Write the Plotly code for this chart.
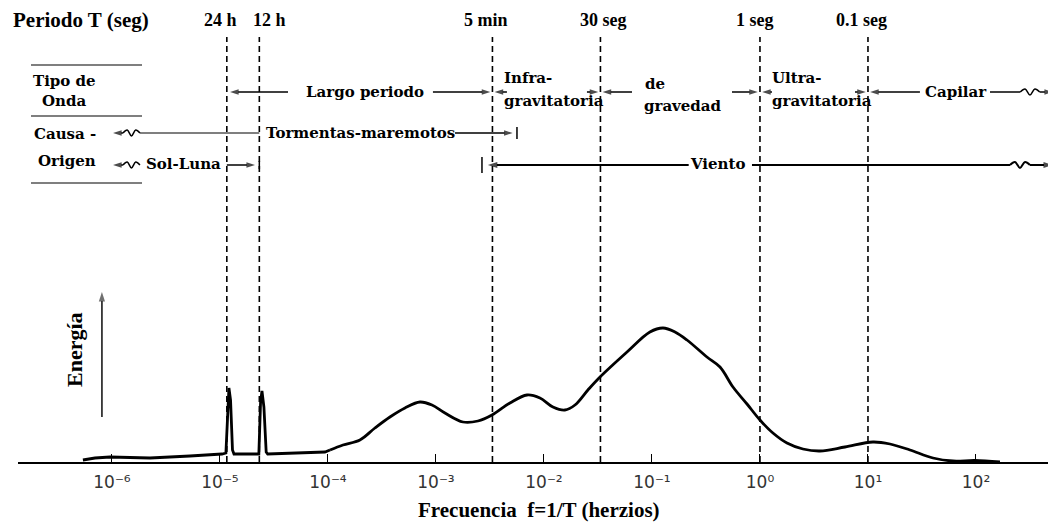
import numpy as np
import plotly.graph_objects as go

# ---------------- data ----------------
period_labels = ["24 h", "12 h", "5 min", "30 seg", "1 seg", "0.1 seg"]
period_seconds = [86400, 43200, 300, 30, 1, 0.1]

# low-frequency part (tides, drawn with straight segments)
tide_logf = [-6.269, -6.157, -6.019, -5.648, -5.278, -4.981, -4.945, -4.928, -4.917,
             -4.902, -4.884, -4.870, -4.640, -4.624, -4.611, -4.593, -4.572, -4.558,
             -4.028, -3.981]
tide_energy = [2, 4, 5, 4, 6, 8, 9, 60, 74, 62, 12, 8, 8, 60, 71, 55, 10, 8, 10, 12]

# smooth part of the spectrum
wave_logf = [-3.981, -3.861, -3.704, -3.565, -3.426, -3.287, -3.148, -3.037, -2.917,
             -2.750, -2.611, -2.481, -2.315, -2.157, -2.037, -1.917, -1.806, -1.713,
             -1.593, -1.481, -1.231, -1.019, -0.898, -0.787, -0.676, -0.491, -0.370,
             -0.250, -0.120, 0.000, 0.120, 0.250, 0.398, 0.556, 0.787, 1.046, 1.204,
             1.389, 1.602, 1.787, 1.991, 2.222]
wave_energy = [12, 17, 22, 34, 45, 54, 60, 57, 49, 40, 41, 47, 59, 67, 64, 55, 52, 57,
               72, 85, 110, 130, 134, 130, 122, 105, 95, 75, 58, 42, 29, 19, 13, 11, 15,
               20, 18, 12, 4, 1, 1.5, 0]

tick_exponents = [-6, -5, -4, -3, -2, -1, 0, 1, 2]
tick_labels = ["10⁻⁶", "10⁻⁵", "10⁻⁴", "10⁻³", "10⁻²", "10⁻¹", "10⁰", "10¹", "10²"]

# ---------------- styling ----------------
TIMES = "Liberation Serif"
ROWF = "DejaVu Serif"
BLACK = "black"
YTOP = 454         # frame height in energy units (page offset of 8 px compensated)
TOP = 425          # top of dashed period lines
Y_PERIOD = 442
Y_TYPE = 370
Y_STORM = 329
Y_SUN = 297

period_logf = [float(np.log10(1.0 / t)) for t in period_seconds]
label_shift = [-6, 10, -6, 3, -5, -6]

fig = go.Figure()

# spectrum
fig.add_trace(go.Scatter(x=[10 ** v for v in tide_logf], y=tide_energy, mode="lines",
                         line=dict(color=BLACK, width=2.8), hoverinfo="skip"))
fig.add_trace(go.Scatter(x=[10 ** v for v in wave_logf], y=wave_energy, mode="lines",
                         line=dict(color=BLACK, width=2.8, shape="spline", smoothing=1.0),
                         hoverinfo="skip"))

# dashed period lines
for lf in period_logf:
    fig.add_trace(go.Scatter(x=[10 ** lf, 10 ** lf], y=[0, TOP], mode="lines",
                             line=dict(color=BLACK, width=1.6, dash="6px,4px"),
                             hoverinfo="skip"))


def seg(x0, x1, y, w=1.5):
    fig.add_trace(go.Scatter(x=[10 ** x0, 10 ** x1], y=[y, y], mode="lines",
                             line=dict(color=BLACK, width=w), hoverinfo="skip"))


def vbar(x, y, h=6, w=1.5):
    fig.add_trace(go.Scatter(x=[10 ** x, 10 ** x], y=[y - h, y + h], mode="lines",
                             line=dict(color=BLACK, width=w), hoverinfo="skip"))


def zig(x0, x1, y, amp=3.0, n=5, w=1.5):
    xs = np.linspace(x0, x1, n)
    ys = [y] + [y + (amp if i % 2 else -amp) for i in range(1, n - 1)] + [y]
    fig.add_trace(go.Scatter(x=[10 ** v for v in xs], y=ys, mode="lines",
                             line=dict(color=BLACK, width=w, shape="spline"),
                             hoverinfo="skip"))


def arrow(tip, tail, y, w=1.5, size=9):
    fig.add_trace(go.Scatter(x=[10 ** tail, 10 ** tip], y=[y, y], mode="lines+markers",
                             line=dict(color=BLACK, width=w),
                             marker=dict(symbol="arrow", angleref="previous", size=[0, size],
                                         color=BLACK, line=dict(width=0)),
                             hoverinfo="skip"))


annotations = []


def txt(text, x, y, size=15, font=ROWF, xanchor="center", xref="x", bold=True, **kw):
    annotations.append(dict(text=f"<b>{text}</b>" if bold else text, x=x, y=y, xref=xref,
                            yref="y", showarrow=False, xanchor=xanchor, yanchor="middle",
                            font=dict(family=font, size=size, color=BLACK), **kw))


lf24, lf12, lf5m, lf30, lf1, lf01 = period_logf

# ---- row: tipo de onda ----
arrow(lf24 + 0.03, -4.370, Y_TYPE)
txt("Largo periodo", -3.657, Y_TYPE)
arrow(lf5m - 0.02, -3.028, Y_TYPE)
arrow(lf5m + 0.02, -2.343, Y_TYPE)
txt("Infra-", -2.385, Y_TYPE + 14, xanchor="left")
txt("gravitatoria", -2.385, Y_TYPE - 9, xanchor="left")
arrow(lf30 - 0.02, -1.602, Y_TYPE)
arrow(lf30 + 0.02, -1.185, Y_TYPE)
txt("de", -1.083, Y_TYPE + 8, xanchor="left")
txt("gravedad", -1.095, Y_TYPE - 14, xanchor="left")
arrow(lf1 - 0.02, -0.259, Y_TYPE)
arrow(lf1 + 0.02, 0.111, Y_TYPE)
txt("Ultra-", 0.090, Y_TYPE + 14, xanchor="left")
txt("gravitatoria", 0.090, Y_TYPE - 9, xanchor="left")
arrow(lf01 - 0.02, 0.880, Y_TYPE)
arrow(lf01 + 0.02, 1.481, Y_TYPE)
txt("Capilar", 1.819, Y_TYPE)
seg(2.13, 2.41, Y_TYPE)
zig(2.41, 2.59, Y_TYPE)
arrow(2.713, 2.59, Y_TYPE)

# ---- row: tormentas-maremotos ----
arrow(-5.99, -5.898, Y_STORM)
zig(-5.898, -5.741, Y_STORM)
seg(-5.741, lf12, Y_STORM, w=1.2)
txt("Tormentas-maremotos", -3.699, Y_STORM)
arrow(-2.29, -2.824, Y_STORM)
vbar(-2.25, Y_STORM)

# ---- row: sol-luna ----
arrow(-5.99, -5.898, Y_SUN)
zig(-5.898, -5.741, Y_SUN)
txt("Sol-Luna", -5.338, Y_SUN + 1)
arrow(lf12 - 0.04, lf24, Y_SUN)
vbar(lf12, Y_SUN, h=4)

# ---- row: viento ----
vbar(-2.574, Y_SUN, h=8)
arrow(-2.52, -0.66, Y_SUN, w=2.2, size=10)
txt("Viento", -0.389, Y_SUN + 1)
seg(-0.074, 2.315, Y_SUN, w=2.2)
zig(2.315, 2.5, Y_SUN, w=2.0)
arrow(2.713, 2.5, Y_SUN, w=2.0, size=10)

# ---- period labels ----
for lab, lf, sh in zip(period_labels, period_logf, label_shift):
    txt(lab, lf, Y_PERIOD, size=18, font=TIMES, xshift=sh)


# ---- left column ----
def px(p):
    return (p - 18) / 1038.0


txt("Periodo T (seg)", px(11), Y_PERIOD, size=21, font=TIMES, xanchor="left", xref="paper")
txt("Tipo de", px(31), 381, xanchor="left", xref="paper")
txt("Onda", px(40), 361, xanchor="left", xref="paper")
txt("Causa -", px(32), 328, xanchor="left", xref="paper")
txt("Origen", px(36), 301, xanchor="left", xref="paper")

shapes = []
for yy in [397, 346, 279]:
    shapes.append(dict(type="line", xref="paper", yref="paper", x0=px(31), x1=px(142),
                       y0=yy / YTOP, y1=yy / YTOP, line=dict(color=BLACK, width=1.2)))

# energy label + arrow
annotations.append(dict(text="<b>Energía</b>", x=px(74), y=112, xref="paper", yref="y",
                        xanchor="center", yanchor="middle",
                        showarrow=False, textangle=-90,
                        font=dict(family=TIMES, size=22, color=BLACK)))
fig.add_trace(go.Scatter(x=[10 ** -6.093, 10 ** -6.093], y=[45, 170], mode="lines+markers",
                         line=dict(color="#333", width=1.8),
                         marker=dict(symbol="arrow", angleref="previous", size=[0, 10],
                                     color="#333", line=dict(width=0)),
                         hoverinfo="skip"))
# x axis title
annotations.append(dict(text="<b>Frecuencia  f=1/T (herzios)</b>", x=px(539), y=-48 / YTOP,
                        xref="paper", yref="paper", xanchor="center", yanchor="middle",
                        showarrow=False,
                        font=dict(family=TIMES, size=21, color=BLACK)))

fig.update_layout(
    width=1048, height=516,
    margin=dict(l=10, r=0, t=0, b=62),
    paper_bgcolor="white", plot_bgcolor="white",
    showlegend=False,
    annotations=annotations,
    shapes=shapes,
    xaxis=dict(type="log", range=[-6.870, 2.741], tickvals=[10.0 ** e for e in tick_exponents],
               ticktext=tick_labels, ticks="inside", ticklen=8, tickwidth=1.4,
               tickcolor=BLACK, showline=True, linecolor=BLACK, linewidth=2,
               showgrid=False, zeroline=False, ticklabelstandoff=4,
               tickfont=dict(family="DejaVu Sans", size=17, color="#333")),
    yaxis=dict(range=[0, YTOP], visible=False, fixedrange=True),
)

fig.write_html("out.html")
